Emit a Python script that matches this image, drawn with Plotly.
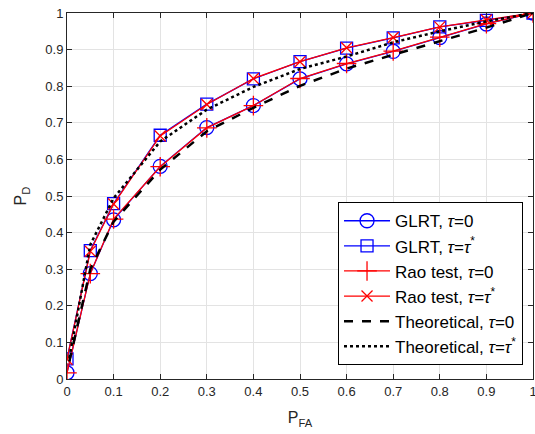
import plotly.graph_objects as go

pfa = [0, 0.05, 0.1, 0.2, 0.3, 0.4, 0.5, 0.6, 0.7, 0.8, 0.9, 1.0]
glrt_tau0 = [0.017, 0.288, 0.435, 0.581, 0.687, 0.747, 0.820, 0.861, 0.895, 0.933, 0.970, 1.0]
glrt_taustar = [0.055, 0.351, 0.479, 0.666, 0.751, 0.820, 0.867, 0.904, 0.932, 0.962, 0.980, 1.0]
rao_tau0 = [0.017, 0.288, 0.437, 0.580, 0.686, 0.747, 0.821, 0.862, 0.896, 0.934, 0.971, 1.0]
rao_taustar = [0.054, 0.349, 0.478, 0.664, 0.750, 0.821, 0.867, 0.905, 0.933, 0.962, 0.981, 1.0]

pfa_theory = [0.005, 0.05, 0.1, 0.2, 0.3, 0.4, 0.5, 0.6, 0.7, 0.8, 0.9, 1.0]
theory_tau0 = [0.048, 0.300, 0.430, 0.572, 0.677, 0.741, 0.801, 0.848, 0.886, 0.922, 0.960, 1.0]
theory_taustar = [0.058, 0.367, 0.494, 0.649, 0.736, 0.798, 0.847, 0.881, 0.920, 0.950, 0.977, 1.0]

x_ticks = [0, 0.1, 0.2, 0.3, 0.4, 0.5, 0.6, 0.7, 0.8, 0.9, 1]
x_tick_labels = ["0", "0.1", "0.2", "0.3", "0.4", "0.5", "0.6", "0.7", "0.8", "0.9", "1"]
y_ticks = x_ticks
y_tick_labels = x_tick_labels

TAU = "<i>τ</i>"
fig = go.Figure()
fig.add_trace(go.Scatter(x=pfa, y=glrt_tau0, mode="lines+markers", name="GLRT, " + TAU + "=0",
                         line=dict(color="#0000FF", width=1.3),
                         marker=dict(symbol="circle-open", size=14, color="#0000FF", line=dict(width=1.3))))
fig.add_trace(go.Scatter(x=pfa, y=glrt_taustar, mode="lines+markers", name="GLRT, " + TAU + "=" + TAU + "<sup>*</sup>",
                         line=dict(color="#0000FF", width=1.3),
                         marker=dict(symbol="square-open", size=12, color="#0000FF", line=dict(width=1.3))))
fig.add_trace(go.Scatter(x=pfa, y=rao_tau0, mode="lines+markers", name="Rao test, " + TAU + "=0",
                         line=dict(color="#FF0000", width=1.3),
                         marker=dict(symbol="cross-thin-open", size=14, color="#FF0000", line=dict(width=1.3, color="#FF0000"))))
fig.add_trace(go.Scatter(x=pfa, y=rao_taustar, mode="lines+markers", name="Rao test, " + TAU + "=" + TAU + "<sup>*</sup>",
                         line=dict(color="#FF0000", width=1.3),
                         marker=dict(symbol="x-thin-open", size=11, color="#FF0000", line=dict(width=1.3, color="#FF0000"))))
fig.add_trace(go.Scatter(x=pfa_theory, y=theory_tau0, mode="lines", name="Theoretical, " + TAU + "=0",
                         line=dict(color="#000000", width=2.5, dash="dash")))
fig.add_trace(go.Scatter(x=pfa_theory, y=theory_taustar, mode="lines", name="Theoretical, " + TAU + "=" + TAU + "<sup>*</sup>",
                         line=dict(color="#000000", width=2.5, dash="dot")))

axis_common = dict(
    range=[0, 1], showgrid=True, gridcolor="#E3E3E3", gridwidth=1,
    showline=True, linecolor="#262626", linewidth=1, mirror="ticks",
    ticks="inside", ticklen=5, tickcolor="#262626", zeroline=False,
    ticklabeloverflow="allow",
    tickfont=dict(family="Liberation Sans, Arial", size=13, color="#262626"),
)
fig.update_xaxes(**axis_common, tickvals=x_ticks, ticktext=x_tick_labels,
                 title=dict(text="P<sub>FA</sub>", font=dict(family="Liberation Sans, Arial", size=16, color="#262626"), standoff=14))
fig.update_yaxes(**axis_common, tickvals=y_ticks, ticktext=y_tick_labels,
                 title=dict(text="P<sub>D</sub>", font=dict(family="Liberation Sans, Arial", size=16, color="#262626"), standoff=14))

fig.update_layout(
    width=535, height=434,
    margin=dict(l=67, r=2, t=13, b=55, autoexpand=False),
    paper_bgcolor="white", plot_bgcolor="white",
    font=dict(family="Liberation Sans, Arial", color="#000000"),
    legend=dict(x=0.5816, y=0.483, xanchor="left", yanchor="top",
                bgcolor="white", bordercolor="#000000", borderwidth=1,
                font=dict(family="Liberation Sans, Arial", size=17, color="#000000"),
                tracegroupgap=0, itemwidth=46),
    showlegend=True,
)

fig.write_html("out.html", config={"displayModeBar": False},
               post_script="document.body.style.margin='0px';document.body.style.overflow='hidden';")
